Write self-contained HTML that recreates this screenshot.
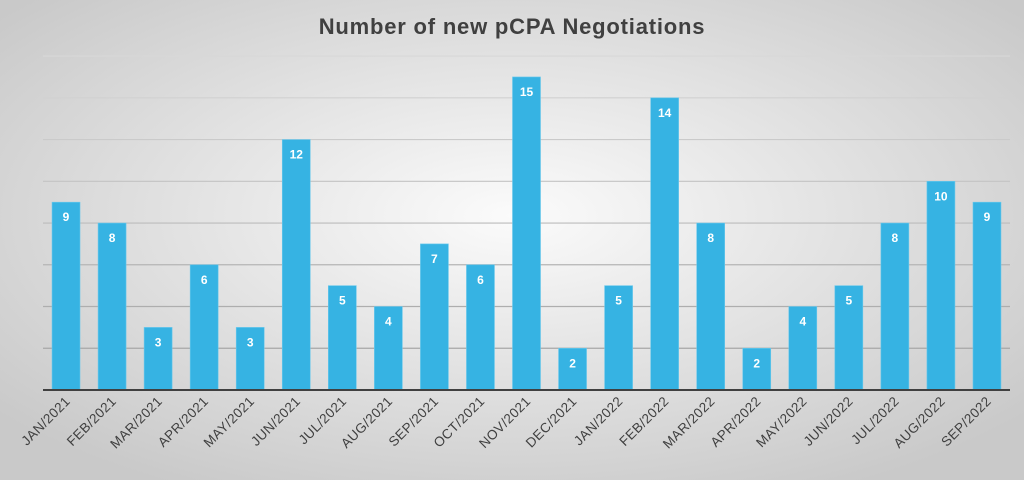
<!DOCTYPE html>
<html><head><meta charset="utf-8"><style>
body{margin:0;width:1024px;height:480px;overflow:hidden}
svg{display:block}
</style></head><body>
<svg id="c" width="1024" height="480" xmlns="http://www.w3.org/2000/svg">
<defs><radialGradient id="bg" cx="50%" cy="45%" r="65%"><stop offset="0" stop-color="#fbfbfb"/><stop offset="1" stop-color="#c9c9c9"/></radialGradient></defs>
<rect width="1024" height="480" fill="url(#bg)"/>
<text x="512" y="34" text-anchor="middle" font-family="Liberation Sans, sans-serif" font-weight="bold" font-size="22" letter-spacing="0.8" fill="#404040">Number of new pCPA Negotiations</text>
<g id="grid"></g><g id="bars"></g><g id="labels"></g>
</svg>
<script>
const categories=["JAN/2021","FEB/2021","MAR/2021","APR/2021","MAY/2021","JUN/2021","JUL/2021","AUG/2021","SEP/2021","OCT/2021","NOV/2021","DEC/2021","JAN/2022","FEB/2022","MAR/2022","APR/2022","MAY/2022","JUN/2022","JUL/2022","AUG/2022","SEP/2022"];
const values=[9,8,3,6,3,12,5,4,7,6,15,2,5,14,8,2,4,5,8,10,9];
const gridTicks=[2,4,6,8,10,12,14,16];
const NS="http://www.w3.org/2000/svg";
const x0=43,x1=1010,base=390,pxPer=20.87,step=(x1-x0)/categories.length,bw=28;
const y=v=>base-v*pxPer;
const xc=i=>x0+step*(i+0.5);
function mk(t,a,p){const e=document.createElementNS(NS,t);for(const k in a)e.setAttribute(k,a[k]);p.appendChild(e);return e;}
const g=document.getElementById('grid'),b=document.getElementById('bars'),l=document.getElementById('labels');
gridTicks.forEach(v=>{const c=Math.round(160+v*3.5);const e=mk('line',{x1:x0,x2:x1,y1:y(v),y2:y(v),stroke:`rgb(${c},${c},${c})`,'stroke-width':1.2},g);

});
values.forEach((v,i)=>{
const r=mk('rect',{x:xc(i)-bw/2,y:y(v),width:bw,height:v*pxPer,fill:'#36b3e3',stroke:'#6cc9ec','stroke-width':0.6},b);


const t=mk('text',{x:xc(i),y:y(v)+19,'text-anchor':'middle','font-family':'Liberation Sans, sans-serif','font-weight':'bold','font-size':12,fill:'#fff'},b);
t.textContent=v;


const c=mk('text',{transform:`translate(${xc(i)+5},402) rotate(-45)`,'text-anchor':'end','font-family':'Liberation Sans, sans-serif','font-size':13.5,'letter-spacing':0.4,fill:'#404040'},l);
c.textContent=categories[i];


});
const ax=mk('line',{x1:x0,x2:x1,y1:base,y2:base,stroke:'#404040','stroke-width':2},g.parentNode);


</script>
</body></html>
